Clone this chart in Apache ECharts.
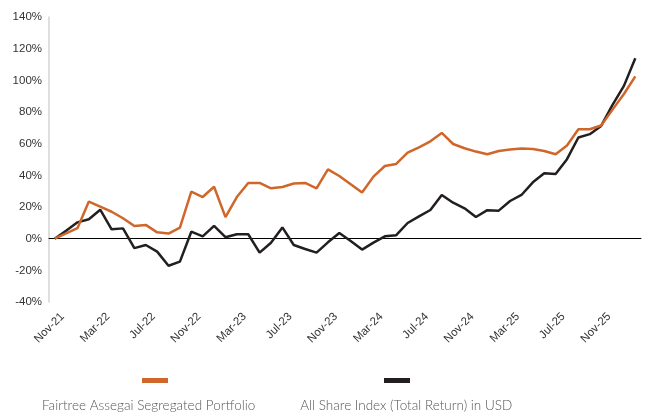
<!DOCTYPE html>
<html>
<head>
<meta charset="utf-8">
<script src="https://cdn.jsdelivr.net/npm/echarts@6/dist/echarts.min.js"></script>
<style>
html,body{margin:0;padding:0;background:#fff;}
#chart{width:657px;height:417px;}
</style>
</head>
<body>
<div id="chart"></div>
<script>
// Monthly categories Nov-21 .. Feb-26
const categories = [
  'Nov-21','Dec-21','Jan-22','Feb-22','Mar-22','Apr-22','May-22','Jun-22','Jul-22','Aug-22','Sep-22','Oct-22',
  'Nov-22','Dec-22','Jan-23','Feb-23','Mar-23','Apr-23','May-23','Jun-23','Jul-23','Aug-23','Sep-23','Oct-23',
  'Nov-23','Dec-23','Jan-24','Feb-24','Mar-24','Apr-24','May-24','Jun-24','Jul-24','Aug-24','Sep-24','Oct-24',
  'Nov-24','Dec-24','Jan-25','Feb-25','Mar-25','Apr-25','May-25','Jun-25','Jul-25','Aug-25','Sep-25','Oct-25',
  'Nov-25','Dec-25','Jan-26','Feb-26'
];
const seriesNames = ['Fairtree Assegai Segregated Portfolio', 'All Share Index (Total Return) in USD'];
const fairtree = [
  0, 3.3, 6.6, 23.4, 20.2, 17, 12.9, 8, 8.7, 4, 3.2, 7,
  29.7, 26.3, 32.8, 13.6, 26.3, 35.2, 35.2, 31.8, 32.6, 34.8, 35.2, 31.8,
  43.8, 39.6, 34.4, 29.1, 39.2, 45.9, 47.2, 54.3, 57.7, 61.5, 66.8, 59.8,
  57.1, 55, 53.3, 55.4, 56.3, 57, 56.6, 55.4, 53.3, 58.8, 69.1, 69.1,
  71.5, 81.5, 91.4, 102.5
];
const allShare = [
  0, 5, 10.3, 12.3, 18.3, 5.9, 6.5, -6, -4, -8.2, -17.1, -14.5,
  4.4, 1.4, 8.1, 0.9, 2.8, 2.8, -8.8, -2.6, 7.1, -4, -6.5, -8.8,
  -2.3, 3.6, -1.5, -6.9, -2.5, 1.5, 2.2, 9.9, 14.1, 18.1, 27.6, 22.7,
  19.2, 13.7, 18, 17.7, 23.8, 27.6, 35.6, 41.3, 40.9, 50.2, 63.9, 66,
  71.2, 84.5, 96.5, 114
];
const yMin = -40, yMax = 140, yStep = 20;

const chart = echarts.init(document.getElementById('chart'), null, {renderer: 'canvas'});
const axisFont = {fontFamily: 'Liberation Sans, Arial, sans-serif', fontSize: 11.5, color: '#333'};
chart.setOption({
  animation: false,
  color: ['#D0672A', '#231F20'],
  grid: {left: 49, right: 16, top: 17, bottom: 115, containLabel: false},
  xAxis: {
    type: 'category',
    data: categories,
    boundaryGap: true,
    axisLine: {onZero: true, lineStyle: {color: '#000', width: 1}},
    axisTick: {show: false},
    axisLabel: Object.assign({interval: 3, rotate: 45, margin: 5, verticalAlign: 'top', padding: [5, 0, 0, 0]}, axisFont),
    splitLine: {show: false}
  },
  yAxis: {
    type: 'value',
    min: yMin, max: yMax, interval: yStep,
    axisLine: {show: true, lineStyle: {color: '#d4d4d4', width: 1.5}},
    axisTick: {show: false},
    splitLine: {show: false},
    axisLabel: Object.assign({formatter: '{value}%', margin: 7}, axisFont)
  },
  legend: [
    {
      data: seriesNames,
      left: 142, top: 378, padding: 0,
      itemWidth: 26, itemHeight: 5, itemGap: 216,
      icon: 'rect',
      formatter: function(){ return ''; },
      selectedMode: false
    },
    {
      data: seriesNames,
      left: 36, top: 399, padding: 0,
      icon: 'none', itemWidth: 1, itemHeight: 1, itemGap: 39,
      selectedMode: false,
      textStyle: {fontFamily: 'Lato, sans-serif', fontWeight: 300, fontSize: 13.5, color: '#555'}
    }
  ],
  series: [
    {name: seriesNames[0], type: 'line', data: fairtree, symbol: 'none', lineStyle: {width: 2.5, color: '#D0672A'}, z: 3},
    {name: seriesNames[1], type: 'line', data: allShare, symbol: 'none', lineStyle: {width: 2.5, color: '#231F20'}, z: 2}
  ]
});
</script>
</body>
</html>
